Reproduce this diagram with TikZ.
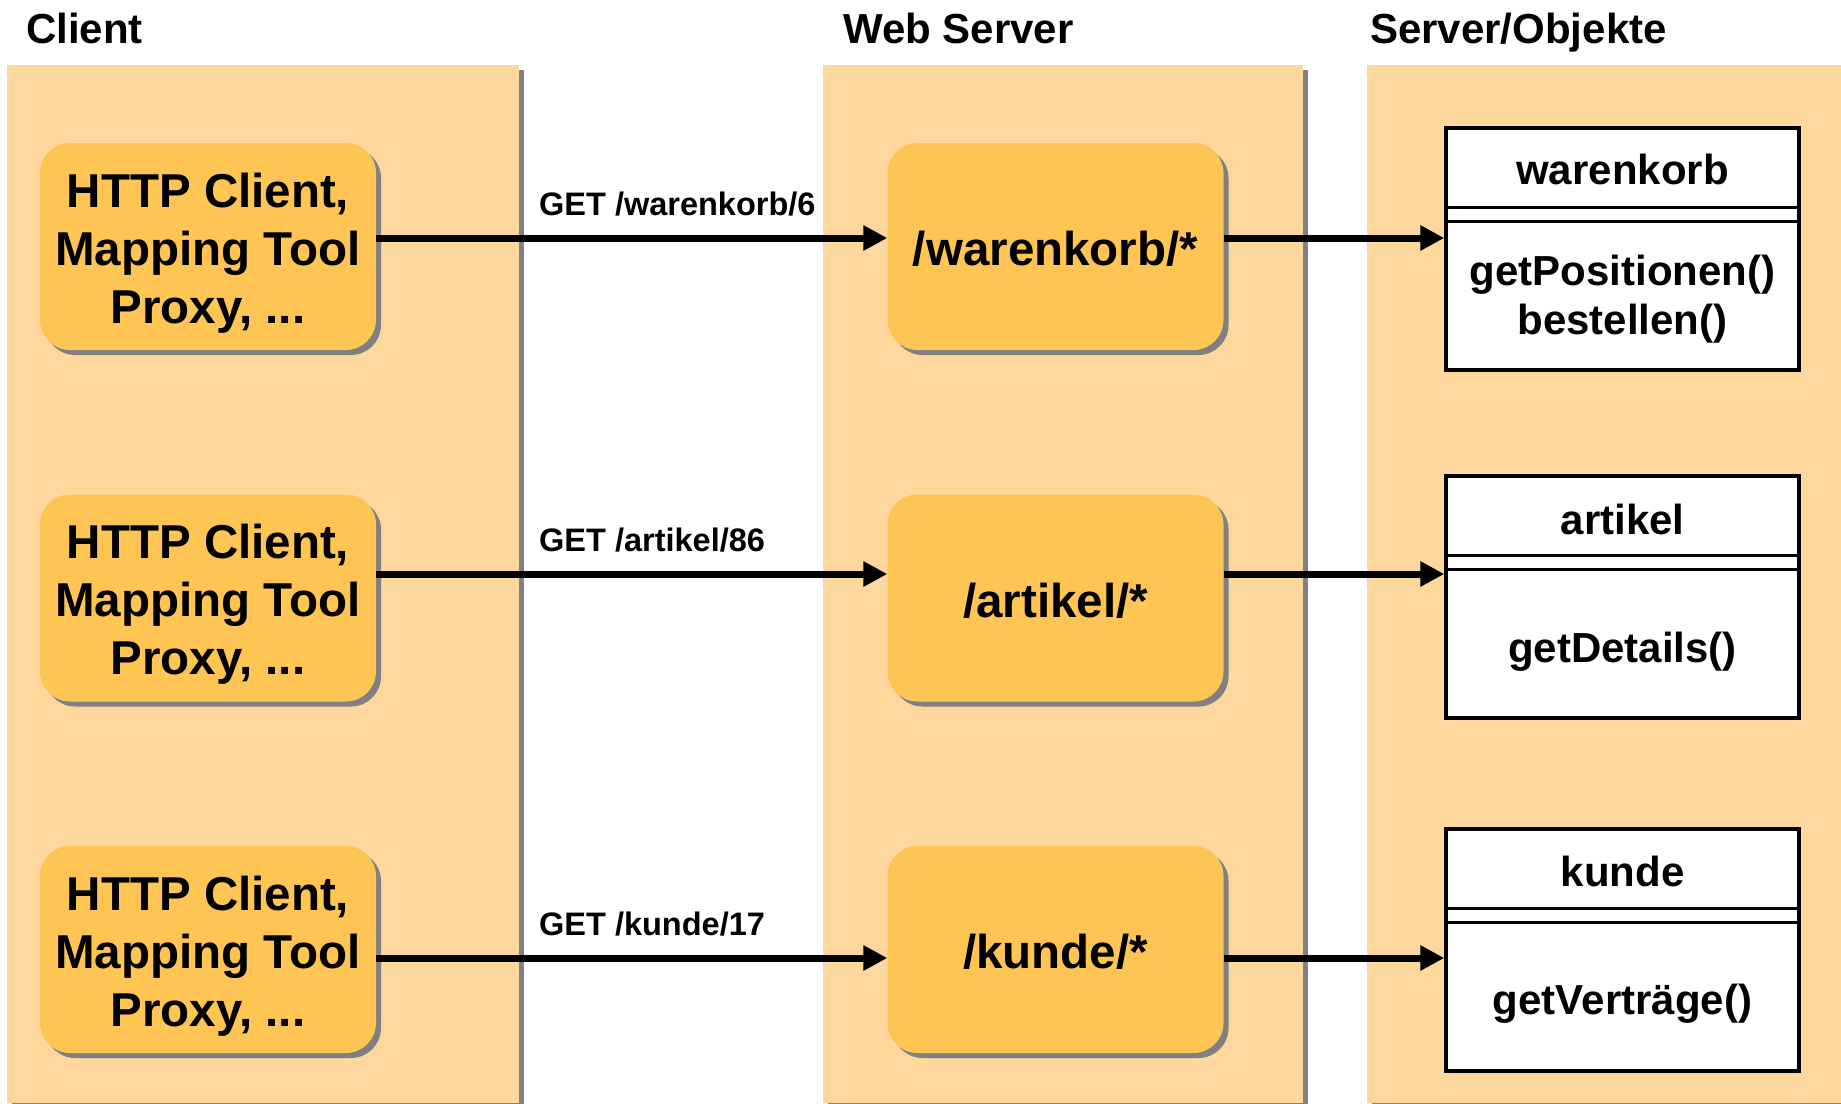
\documentclass[tikz,border=0pt]{standalone}
\usepackage{fontspec}
\setmainfont{Liberation Sans}
\usepackage{xcolor}
\usepackage{tikz}
\usetikzlibrary{arrows.meta}
\usetikzlibrary{shadows}

\definecolor{colfill}{RGB}{254,215,156}
\definecolor{boxfill}{RGB}{254,197,84}
\definecolor{shadowgray}{RGB}{128,128,128}

\newcommand{\clienttext}{\rule{0pt}{47pt}HTTP Client,\\Mapping Tool\\Proxy, ...}

\tikzset{
  colshadow/.style={drop shadow={shadow xshift=5pt,shadow yshift=-5pt,fill=shadowgray,opacity=1}},
  column/.style={fill=colfill,colshadow},
  header/.style={inner sep=0pt,anchor=base west,font=\fontsize{42}{50}\selectfont\bfseries},
  roundbox/.style={fill=boxfill,rounded corners=30pt,minimum width=336pt,minimum height=207pt,
    inner sep=2pt,align=center,colshadow,font=\fontsize{47.5}{58}\selectfont\bfseries},
  webbox/.style={roundbox,execute at begin node={\rule{0pt}{39.5pt}}},
  umlbox/.style={draw,fill=white,line width=3.5pt,minimum width=353pt,minimum height=242pt,inner sep=0pt},
  umltext/.style={inner sep=0pt,align=center,font=\fontsize{42}{49}\selectfont\bfseries},
  umlline/.style={line width=3pt},
  getlabel/.style={inner sep=0pt,anchor=west,font=\fontsize{32.5}{40}\selectfont\bfseries},
  arrow/.style={line width=7pt,-{Triangle[length=24pt,width=24pt]}}
}

\begin{document}
\begin{tikzpicture}[x=1pt,y=-1pt]
\useasboundingbox (0,0) rectangle (1841,1103);

% Draw the columns
\fill[column] (7,65) rectangle (519,1103);
\fill[column] (823,65) rectangle (1303,1103);
\fill[column] (1367,65) rectangle (1841,1103);

% Column headers
\node[header] (hclient) at (26,43) {Client};
\node[header] (hweb) at (843,43) {Web Server};
\node[header] (hobj) at (1370,43) {Server/Objekte};

% Rows of the arrows
\coordinate (r1) at (0,238);
\coordinate (r2) at (0,574);
\coordinate (r3) at (0,958);

% Draw the clients
\node[roundbox] (c1) at (208,246.5) {\clienttext};
\node[roundbox] (c2) at (208,598) {\clienttext};
\node[roundbox] (c3) at (208,949.5) {\clienttext};

% Draw the web server mappings
\node[webbox] (w1) at (1055.5,246.5) {/warenkorb/*};
\node[webbox] (w2) at (1055.5,598) {/artikel/*};
\node[webbox] (w3) at (1055.5,949.5) {/kunde/*};

% Draw the objects
\node[umlbox] (o1) at (1622.5,249) {};
\node[umlbox] (o2) at (1622.5,597) {};
\node[umlbox] (o3) at (1622.5,950) {};
\draw[umlline] ([yshift=-81pt]o1.north west) -- ([yshift=-81pt]o1.north east);
\draw[umlline] ([yshift=-95pt]o1.north west) -- ([yshift=-95pt]o1.north east);
\draw[umlline] ([yshift=-81pt]o2.north west) -- ([yshift=-81pt]o2.north east);
\draw[umlline] ([yshift=-95pt]o2.north west) -- ([yshift=-95pt]o2.north east);
\draw[umlline] ([yshift=-81pt]o3.north west) -- ([yshift=-81pt]o3.north east);
\draw[umlline] ([yshift=-95pt]o3.north west) -- ([yshift=-95pt]o3.north east);
\node[umltext] (o1name) at ([yshift=-43pt]o1.north) {warenkorb};
\node[umltext] (o1body) at ([yshift=-173pt]o1.north) {getPositionen()\\bestellen()};
\node[umltext] (o2name) at ([yshift=-45pt]o2.north) {artikel};
\node[umltext] (o2body) at ([yshift=-177pt]o2.north) {getDetails()};
\node[umltext] (o3name) at ([yshift=-44pt]o3.north) {kunde};
\node[umltext] (o3body) at ([yshift=-176pt]o3.north) {getVerträge()};

% Draw the requests
\draw[arrow] (c1.east |- r1) -- (w1.west |- r1);
\draw[arrow] (c2.east |- r2) -- (w2.west |- r2);
\draw[arrow] (c3.east |- r3) -- (w3.west |- r3);
\node[getlabel] (g1) at (539,204) {GET /warenkorb/6};
\node[getlabel] (g2) at (539,540) {GET /artikel/86};
\node[getlabel] (g3) at (539,924) {GET /kunde/17};

% Draw the dispatch to the objects
\draw[arrow] (w1.east |- r1) -- (o1.west |- r1);
\draw[arrow] (w2.east |- r2) -- (o2.west |- r2);
\draw[arrow] (w3.east |- r3) -- (o3.west |- r3);

\end{tikzpicture}
\end{document}
